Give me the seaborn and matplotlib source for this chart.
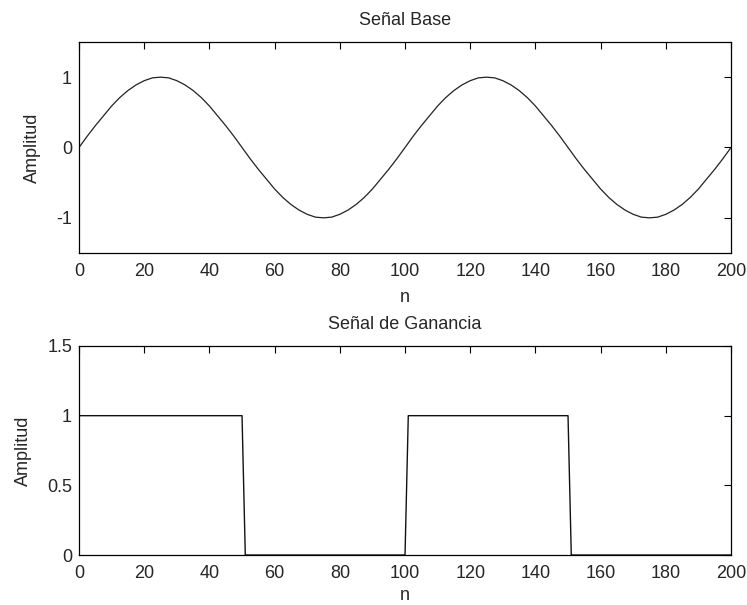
import matplotlib
matplotlib.use("Agg")
import matplotlib.pyplot as plt
import seaborn as sns

# Señal Base, read every 2.5 samples
n_base = [i * 2.5 for i in range(81)]
base = [0.00, 0.16, 0.31, 0.45, 0.59, 0.71, 0.81, 0.89, 0.95, 0.99,
        1.00, 0.99, 0.95, 0.89, 0.81, 0.71, 0.59, 0.45, 0.31, 0.16,
        0.00, -0.16, -0.31, -0.45, -0.59, -0.71, -0.81, -0.89, -0.95, -0.99,
        -1.00, -0.99, -0.95, -0.89, -0.81, -0.71, -0.59, -0.45, -0.31, -0.16,
        0.00, 0.16, 0.31, 0.45, 0.59, 0.71, 0.81, 0.89, 0.95, 0.99,
        1.00, 0.99, 0.95, 0.89, 0.81, 0.71, 0.59, 0.45, 0.31, 0.16,
        0.00, -0.16, -0.31, -0.45, -0.59, -0.71, -0.81, -0.89, -0.95, -0.99,
        -1.00, -0.99, -0.95, -0.89, -0.81, -0.71, -0.59, -0.45, -0.31, -0.16,
        0.00]

# Señal de Ganancia, corner points
n_gain = [0, 50, 51, 100, 101, 150, 151, 200]
gain = [1, 1, 0, 0, 1, 1, 0, 0]

xticks = list(range(0, 201, 20))

sns.set_style("white")
plt.rcParams['font.family'] = ['Liberation Sans', 'DejaVu Sans']
plt.rcParams['axes.unicode_minus'] = False
fs = 13

fig = plt.figure(figsize=(7.47, 6.05), dpi=100)
ax1 = fig.add_axes([0.1058, 0.5818, 0.8728, 0.3488])
ax2 = fig.add_axes([0.1058, 0.0826, 0.8728, 0.3455])

sns.lineplot(x=n_base, y=base, ax=ax1, color='#222222', linewidth=0.9,
             estimator=None, sort=False)
sns.lineplot(x=n_gain, y=gain, ax=ax2, color='#111111', linewidth=1.0,
             estimator=None, sort=False)

ax1.set_ylim(-1.5, 1.5)
ax1.set_yticks([-1, 0, 1])
ax1.set_yticklabels(['-1', '0', '1'])
ax1.set_title('Señal Base', fontsize=fs, pad=12)
ax1.yaxis.set_label_coords(-0.058, 0.5)

ax2.set_ylim(0, 1.5)
ax2.set_yticks([0, 0.5, 1, 1.5])
ax2.set_yticklabels(['0', '0.5', '1', '1.5'])
ax2.set_title('Señal de Ganancia', fontsize=fs, pad=12)
ax2.yaxis.set_label_coords(-0.072, 0.5)

for ax in (ax1, ax2):
    ax.set_xlim(0, 200)
    ax.set_xticks(xticks)
    ax.set_xticklabels([str(t) for t in xticks])
    ax.set_ylabel('Amplitud', fontsize=fs)
    ax.tick_params(direction='in', length=5, width=0.8, color='black',
                   top=True, right=True, labelsize=fs)
    ax.tick_params(axis='x', pad=7)
    ax.tick_params(axis='y', pad=5)
    for s in ax.spines.values():
        s.set_color('black')
        s.set_linewidth(0.9)
        s.set_visible(True)

ax1.set_xlabel('n', fontsize=fs, labelpad=6.5)
ax2.set_xlabel('n', fontsize=fs, labelpad=3.5)

fig.savefig("out.png", dpi=100)
